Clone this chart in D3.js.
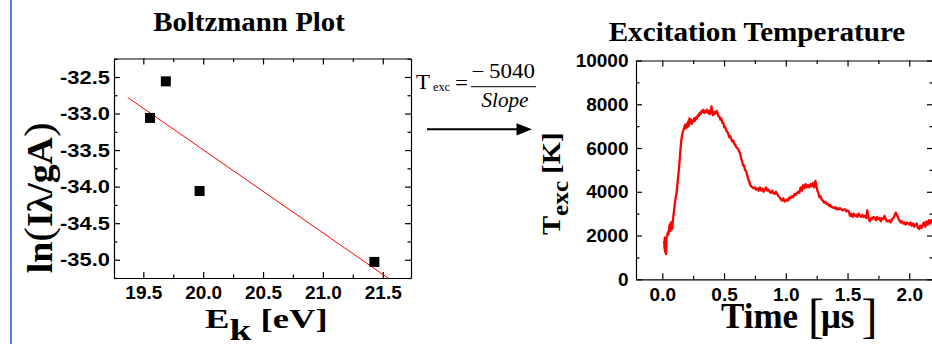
<!DOCTYPE html>
<html><head><meta charset="utf-8">
<script src="https://cdn.jsdelivr.net/npm/d3@7"></script>
<style>body{margin:0;background:#fff;} svg{display:block;}</style>
</head><body>
<script>
// ---------- Boltzmann plot data ----------
const energyEV = [19.556, 19.688, 19.97, 21.43];
const lnIntensity = [-33.06, -32.56, -34.06, -35.03];
const fitEnergy = [19.37, 21.57];
const fitLn = [-32.78, -35.28];
const leftXTicks = [19.5, 20.0, 20.5, 21.0, 21.5];
const leftYTicks = [-32.5, -33.0, -33.5, -34.0, -34.5, -35.0];

// ---------- Excitation temperature data ----------
const timeUs = [0.015,0.018,0.020,0.022,0.026,0.030,0.033,0.035,0.040,0.045,0.050,0.055,0.060,0.065,0.070,0.075,0.080,0.085,0.090,0.100,
0.110,0.116,0.125,0.132,0.140,0.148,0.155,0.162,0.170,0.178,0.185,0.190,0.196,0.202,0.208,0.214,0.220,0.226,0.232,0.238,
0.245,0.252,0.258,0.265,0.272,0.280,0.288,0.295,0.302,0.310,0.318,0.325,0.332,0.340,0.348,0.355,0.362,0.370,0.378,0.385,
0.392,0.398,0.404,0.410,0.418,0.425,0.432,0.440,0.447,0.455,0.462,0.470,0.478,0.486,0.494,0.502,0.510,0.518,0.526,0.534,
0.542,0.550,0.558,0.566,0.574,0.582,0.590,0.598,0.606,0.614,0.622,0.630,0.638,0.646,0.654,0.662,0.670,0.678,0.686,0.694,
0.702,0.710,0.720,0.730,0.740,0.750,0.760,0.770,0.780,0.790,0.800,0.810,0.820,0.830,0.840,0.850,0.860,0.870,0.880,0.890,
0.900,0.910,0.920,0.930,0.940,0.950,0.960,0.970,0.980,0.990,1.000,1.010,1.020,1.030,1.040,1.050,1.060,1.070,1.080,1.090,
1.100,1.110,1.120,1.130,1.140,1.150,1.160,1.170,1.180,1.190,1.200,1.210,1.220,1.230,1.240,1.248,1.256,1.264,1.272,1.280,
1.290,1.300,1.310,1.320,1.330,1.340,1.350,1.360,1.370,1.380,1.390,1.400,1.410,1.420,1.430,1.440,1.450,1.460,1.470,1.480,
1.490,1.500,1.510,1.520,1.530,1.540,1.550,1.560,1.570,1.580,1.590,1.600,1.610,1.620,1.630,1.640,1.650,1.660,1.670,1.680,
1.690,1.700,1.710,1.720,1.730,1.740,1.750,1.760,1.770,1.780,1.790,1.800,1.810,1.820,1.830,1.840,1.850,1.860,1.870,1.880,
1.890,1.900,1.910,1.920,1.930,1.940,1.950,1.960,1.970,1.980,1.990,2.000,2.010,2.020,2.030,2.040,2.050,2.060,2.070,2.080,
2.090,2.100,2.110,2.120,2.130,2.140,2.150,2.160,2.170,2.180,2.190];
const tempK = [1750,1400,1900,1250,1650,1150,1500,1950,2000,2150,2050,2300,2500,2200,2600,2400,2300,2650,2900,3400,
3800,3950,4500,4900,5400,6000,6400,6650,6800,6950,7050,6900,7100,6950,7200,7000,7350,7150,7300,7100,
7250,7200,7350,7250,7400,7350,7500,7450,7600,7550,7700,7650,7750,7600,7700,7650,7750,7600,7700,7550,
7700,7900,7650,7500,7650,7550,7600,7700,7600,7450,7450,7300,7350,7150,7150,6950,6950,6800,6750,6650,
6500,6550,6400,6300,6350,6200,6150,6050,6000,5950,5850,5750,5550,5400,5200,5200,5000,4950,4800,4600,
4500,4350,4250,4200,4150,4200,4100,4150,4050,4200,4050,4150,4000,4100,4200,4050,4100,4000,3950,4050,
3950,3900,4000,3900,3800,3750,3650,3600,3700,3550,3600,3650,3600,3750,3700,3800,3750,3900,3850,3950,
4000,3950,4200,4050,4300,4150,4350,4200,4300,4200,4350,4250,4400,4200,4500,4250,4050,3950,3750,3800,
3650,3600,3500,3550,3450,3450,3350,3400,3300,3300,3250,3300,3200,3250,3200,3250,3200,3150,3200,3200,
3100,3150,3100,2900,3000,2850,3000,2900,2950,2850,3000,2900,2850,2950,2850,2900,2800,3150,2800,2650,
2800,2750,2850,2800,2700,2850,2750,2800,2650,2800,2750,2900,2750,2650,2650,2700,2600,2750,2800,2900,
3050,2950,2800,2700,2600,2650,2550,2600,2500,2600,2550,2500,2600,2450,2550,2400,2500,2550,2350,2300,
2450,2350,2500,2600,2400,2650,2500,2700,2550,2700,2600];
const rightXTicks = [0.0, 0.5, 1.0, 1.5, 2.0];
const rightYTicks = [0, 2000, 4000, 6000, 8000, 10000];

const svg = d3.select("body").append("svg").attr("width", 932).attr("height", 344);
const SANS = "'Liberation Sans', Arial, sans-serif";
const SERIF = "'Liberation Serif', 'Times New Roman', serif";

// blue side bar
svg.append("line").attr("x1", 11).attr("x2", 11).attr("y1", 0).attr("y2", 344)
  .attr("stroke", "#5a7cf5").attr("stroke-width", 2);

function styleAxis(g) {
  g.selectAll("path.domain").attr("stroke", "#000").attr("stroke-width", 1.2);
  g.selectAll(".tick line").attr("stroke", "#000").attr("stroke-width", 1.2);
  g.selectAll("text").attr("fill", "#000").style("font-family", SANS)
    .style("font-weight", "bold").style("font-size", "19px");
}

function frame(x, y, xTicks, yTicks, xMinor, yMinor, xFmt, yFmt, yPad) {
  const [x0, x1] = x.range(), [y0, y1] = y.range();
  const gb = svg.append("g").attr("transform", `translate(0,${y0})`)
    .call(d3.axisBottom(x).tickValues(xTicks).tickSize(-6).tickSizeOuter(0).tickPadding(8).tickFormat(xFmt));
  const gt = svg.append("g").attr("transform", `translate(0,${y1})`)
    .call(d3.axisTop(x).tickValues(xTicks).tickSize(-6).tickSizeOuter(0).tickFormat(""));
  const gl = svg.append("g").attr("transform", `translate(${x0},0)`)
    .call(d3.axisLeft(y).tickValues(yTicks).tickSize(-6).tickSizeOuter(0).tickPadding(yPad).tickFormat(yFmt));
  const gr = svg.append("g").attr("transform", `translate(${x1},0)`)
    .call(d3.axisRight(y).tickValues(yTicks).tickSize(-6).tickSizeOuter(0).tickFormat(""));
  [gb, gt, gl, gr].forEach(styleAxis);
  const mb = svg.append("g").attr("transform", `translate(0,${y0})`)
    .call(d3.axisBottom(x).tickValues(xMinor).tickSize(-3.5).tickFormat(""));
  const mt = svg.append("g").attr("transform", `translate(0,${y1})`)
    .call(d3.axisTop(x).tickValues(xMinor).tickSize(-3.5).tickFormat(""));
  const ml = svg.append("g").attr("transform", `translate(${x0},0)`)
    .call(d3.axisLeft(y).tickValues(yMinor).tickSize(-3.5).tickFormat(""));
  const mr = svg.append("g").attr("transform", `translate(${x1},0)`)
    .call(d3.axisRight(y).tickValues(yMinor).tickSize(-3.5).tickFormat(""));
  [mb, mt, ml, mr].forEach(g => { g.select("path.domain").remove(); styleAxis(g); });
  return gl;
}

// ================= LEFT: Boltzmann plot =================
const xL = d3.scaleLinear().domain([19.255, 21.736]).range([114, 411]);
const yL = d3.scaleLinear().domain([-35.25, -32.247]).range([278, 58.5]);

svg.append("defs").append("clipPath").attr("id", "clipL")
  .append("rect").attr("x", 114).attr("y", 58.5).attr("width", 297).attr("height", 219.5);
svg.select("defs").append("clipPath").attr("id", "clipR")
  .append("rect").attr("x", 636).attr("y", 60.5).attr("width", 297).attr("height", 218.8);

const leftXMinor = [19.25, 19.75, 20.25, 20.75, 21.25, 21.75].filter(v => v >= 19.255 && v <= 21.736);
const leftYMinor = [-32.25, -32.75, -33.25, -33.75, -34.25, -34.75, -35.25].filter(v => v >= -35.25 && v <= -32.247);
const glL = frame(xL, yL, leftXTicks, leftYTicks, leftXMinor, leftYMinor, d3.format(".1f"), d => d.toFixed(1), 4);
glL.selectAll(".tick text").attr("textLength", 50).attr("lengthAdjust", "spacingAndGlyphs");

const lineL = d3.line().x((d, i) => xL(fitEnergy[i])).y((d, i) => yL(fitLn[i]));
svg.append("path").datum(fitEnergy).attr("d", lineL).attr("clip-path", "url(#clipL)")
  .attr("fill", "none").attr("stroke", "#ff0000").attr("stroke-width", 1);

svg.append("g").selectAll("rect").data(energyEV).join("rect")
  .attr("x", (d) => xL(d) - 5).attr("y", (d, i) => yL(lnIntensity[i]) - 5)
  .attr("width", 10).attr("height", 10).attr("fill", "#000");

svg.append("text").attr("transform", "translate(249,31) scale(1.07,1)").attr("text-anchor", "middle")
  .style("font-family", SERIF).style("font-weight", "bold").style("font-size", "27px").text("Boltzmann Plot");

// x label E_k [eV]
const ek = svg.append("text").attr("transform", "translate(205,328.3) scale(1.31,1)")
  .style("font-family", SERIF).style("font-weight", "bold");
ek.append("tspan").style("font-size", "28px").text("E");
ek.append("tspan").style("font-size", "30px").attr("dy", 12).text("k");
ek.append("tspan").style("font-size", "28px").attr("dy", -12).text("\u00a0[eV]");

// y label ln(Iλ/gA)
const ln = svg.append("text").attr("transform", "translate(51.5,273.3) rotate(-90) scale(1.08,1)")
  .style("font-family", SERIF);
ln.append("tspan").style("font-weight", "bold").style("font-size", "35px").text("ln");
ln.append("tspan").style("font-weight", "normal").style("font-size", "41px").text("(");
ln.append("tspan").style("font-weight", "bold").style("font-size", "35px").text("I\u03bb/gA");
ln.append("tspan").style("font-weight", "normal").style("font-size", "41px").text(")");

// ================= MIDDLE: formula + arrow =================
svg.append("text").attr("x", 416).attr("y", 89).attr("textLength", 14).attr("lengthAdjust", "spacingAndGlyphs")
  .style("font-family", SERIF).style("font-size", "22px").text("T");
svg.append("text").attr("x", 433).attr("y", 91).attr("textLength", 17).attr("lengthAdjust", "spacingAndGlyphs")
  .style("font-family", SERIF).style("font-size", "13px").text("exc");
svg.append("text").attr("x", 455).attr("y", 90).attr("textLength", 13).attr("lengthAdjust", "spacingAndGlyphs")
  .style("font-family", SERIF).style("font-size", "20px").text("=");
svg.append("line").attr("x1", 471).attr("x2", 536).attr("y1", 86.7).attr("y2", 86.7)
  .attr("stroke", "#000").attr("stroke-width", 1);
svg.append("text").attr("x", 471.5).attr("y", 78.3).attr("textLength", 63.5).attr("lengthAdjust", "spacingAndGlyphs")
  .style("font-family", SERIF).style("font-size", "20px").text("\u2212\u20095040");
svg.append("text").attr("x", 481.5).attr("y", 106.5).attr("textLength", 47).attr("lengthAdjust", "spacingAndGlyphs")
  .style("font-family", SERIF).style("font-style", "italic").style("font-size", "20px").text("Slope");
svg.append("line").attr("x1", 427).attr("x2", 518).attr("y1", 129.3).attr("y2", 129.3)
  .attr("stroke", "#000").attr("stroke-width", 2);
svg.append("path").attr("d", "M516.5,123.3 L532,129.3 L516.5,135.5 Z").attr("fill", "#000");

// ================= RIGHT: Excitation temperature =================
const xR = d3.scaleLinear().domain([-0.213, 2.192]).range([636, 933]);
const yR = d3.scaleLinear().domain([0, 10000]).range([279.3, 60.5]);
const rightXMinor = [0.25, 0.75, 1.25, 1.75];
const rightYMinor = [1000, 3000, 5000, 7000, 9000];
frame(xR, yR, rightXTicks, rightYTicks, rightXMinor, rightYMinor, d3.format(".1f"), d3.format("d"), 7.5);

const lineR = d3.line().x((d) => xR(d)).y((d, i) => yR(tempK[i]));
svg.append("path").datum(timeUs).attr("d", lineR).attr("clip-path", "url(#clipR)")
  .attr("fill", "none").attr("stroke", "#ff0000").attr("stroke-width", 2.3).attr("stroke-linejoin", "round");

svg.append("text").attr("transform", "translate(757,41) scale(1.08,1)").attr("text-anchor", "middle")
  .style("font-family", SERIF).style("font-weight", "bold").style("font-size", "27px").text("Excitation Temperature");

// x label Time [μs]
svg.append("text").attr("x", 721).attr("y", 328.3).style("font-family", SERIF)
  .style("font-weight", "bold").style("font-size", "35px").text("Time");
svg.append("text").attr("x", 808).attr("y", 331.5).style("font-family", SERIF)
  .style("font-size", "48px").text("[");
svg.append("text").attr("x", 821).attr("y", 328.3).style("font-family", SERIF)
  .style("font-weight", "bold").style("font-size", "35px").text("\u03bcs");
svg.append("text").attr("x", 861.5).attr("y", 331.5).style("font-family", SERIF)
  .style("font-size", "48px").text("]");

// y label T_exc [K]
const te = svg.append("text").attr("transform", "translate(560,235) rotate(-90) scale(1.1,1)")
  .style("font-family", SERIF).style("font-weight", "bold");
te.append("tspan").style("font-size", "26px").text("T");
te.append("tspan").style("font-size", "23px").attr("dy", 8).text("exc");
te.append("tspan").style("font-size", "26px").attr("dy", -8).text("\u00a0[K]");
</script>
</body></html>
